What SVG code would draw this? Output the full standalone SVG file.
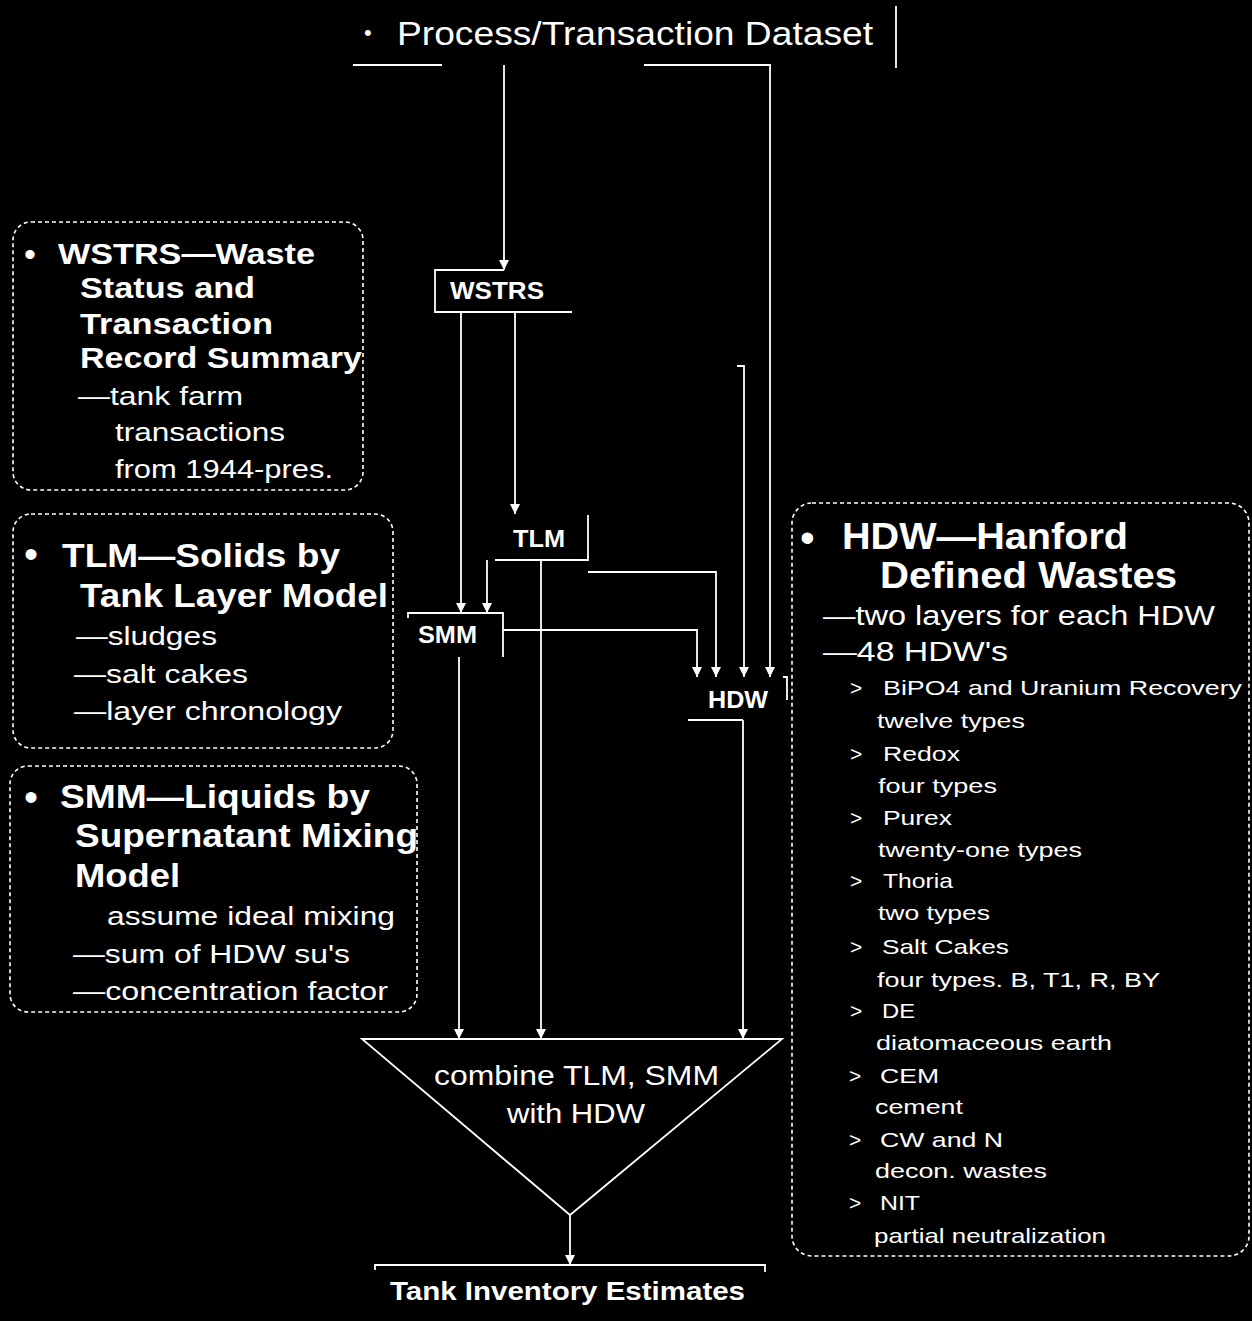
<svg xmlns="http://www.w3.org/2000/svg" width="1252" height="1321" viewBox="0 0 1252 1321">
<defs>
<style>
.t{fill:#fff;font-family:"Liberation Sans",Arial,sans-serif}
.b{font-weight:bold}
.ln{fill:none;stroke:#fff;stroke-width:1.8}
.dsh{fill:none;stroke:#fff;stroke-width:1.6;stroke-dasharray:4 3}
.c{fill:none;stroke:#fff;stroke-width:1.8}
.bul{fill:#fff}
</style>
<marker id="ah" markerUnits="userSpaceOnUse" markerWidth="10" markerHeight="12" refX="10" refY="5" orient="auto">
<path d="M0,0 L10,5 L0,10 Z" fill="#fff"/>
</marker>
</defs>
<rect width="1252" height="1321" fill="#000"/>

<g id="connectors">
<path class="c" d="M504 65 V270" marker-end="url(#ah)"/>
<path class="c" d="M770 65 V677" marker-end="url(#ah)"/>
<path class="c" d="M737 366 H744 V677" marker-end="url(#ah)"/>
<path class="c" d="M515 312 V514" marker-end="url(#ah)"/>
<path class="c" d="M461 312 V613" marker-end="url(#ah)"/>
<path class="c" d="M487 560 V613" marker-end="url(#ah)"/>
<path class="c" d="M588 572 H716 V677" marker-end="url(#ah)"/>
<path class="c" d="M503 630 H697 V677" marker-end="url(#ah)"/>
<path class="c" d="M541 560 V1039" marker-end="url(#ah)"/>
<path class="c" d="M459 657 V1039" marker-end="url(#ah)"/>
<path class="c" d="M743 720 V1039" marker-end="url(#ah)"/>
<path class="c" d="M570 1215 V1265" marker-end="url(#ah)"/>
</g>

<g id="process">
<path class="ln" d="M896 6 V68 M353 65 H442 M644 65 H771"/>
<text class="t" x="364" y="40" font-size="22">•</text>
<text class="t" x="397" y="45" font-size="34" textLength="476" lengthAdjust="spacingAndGlyphs">Process/Transaction Dataset</text>
</g>

<g id="wstrs">
<path class="ln" d="M504 270 H435 V312 H572"/>
<text class="t b" x="450" y="299" font-size="24" textLength="94" lengthAdjust="spacingAndGlyphs">WSTRS</text>
</g>

<g id="tlm">
<path class="ln" d="M588 515 V560 H495"/>
<text class="t b" x="513" y="547" font-size="24" textLength="52" lengthAdjust="spacingAndGlyphs">TLM</text>
</g>

<g id="smm">
<path class="ln" d="M408 618 V613 H503 V657"/>
<text class="t b" x="418" y="643" font-size="24" textLength="59" lengthAdjust="spacingAndGlyphs">SMM</text>
</g>

<g id="hdw">
<path class="ln" d="M688 720 H743 M783 677 H787 V700"/>
<text class="t b" x="708" y="708" font-size="24" textLength="60" lengthAdjust="spacingAndGlyphs">HDW</text>
</g>

<g id="combine">
<path class="ln" d="M362 1039 H782 L570 1215 Z"/>
<text class="t" x="434" y="1085" font-size="27" textLength="285" lengthAdjust="spacingAndGlyphs">combine TLM, SMM</text>
<text class="t" x="507" y="1123" font-size="27" textLength="138" lengthAdjust="spacingAndGlyphs">with HDW</text>
</g>

<g id="tank">
<path class="ln" d="M375 1270 V1265 H765 V1272"/>
<text class="t b" x="390" y="1300" font-size="25" textLength="355" lengthAdjust="spacingAndGlyphs">Tank Inventory Estimates</text>
</g>

<g id="wstrs-note">
<rect class="dsh" x="13" y="222" width="350" height="268" rx="18"/>
<text class="t" x="24" y="266" font-size="34">•</text>
<text class="t b" x="58" y="264" font-size="29" textLength="257" lengthAdjust="spacingAndGlyphs">WSTRS—Waste</text>
<text class="t b" x="80" y="298" font-size="29" textLength="175" lengthAdjust="spacingAndGlyphs">Status and</text>
<text class="t b" x="80" y="334" font-size="29" textLength="193" lengthAdjust="spacingAndGlyphs">Transaction</text>
<text class="t b" x="80" y="368" font-size="29" textLength="282" lengthAdjust="spacingAndGlyphs">Record Summary</text>
<text class="t" x="78" y="405" font-size="25" textLength="165" lengthAdjust="spacingAndGlyphs">—tank farm</text>
<text class="t" x="115" y="441" font-size="25" textLength="170" lengthAdjust="spacingAndGlyphs">transactions</text>
<text class="t" x="115" y="478" font-size="25" textLength="218" lengthAdjust="spacingAndGlyphs">from 1944-pres.</text>
</g>

<g id="tlm-note">
<rect class="dsh" x="13" y="514" width="380" height="234" rx="18"/>
<text class="t" x="24" y="568" font-size="40">•</text>
<text class="t b" x="62" y="567" font-size="33" textLength="278" lengthAdjust="spacingAndGlyphs">TLM—Solids by</text>
<text class="t b" x="80" y="607" font-size="33" textLength="308" lengthAdjust="spacingAndGlyphs">Tank Layer Model</text>
<text class="t" x="76" y="645" font-size="25" textLength="141" lengthAdjust="spacingAndGlyphs">—sludges</text>
<text class="t" x="74" y="683" font-size="25" textLength="174" lengthAdjust="spacingAndGlyphs">—salt cakes</text>
<text class="t" x="74" y="720" font-size="25" textLength="268" lengthAdjust="spacingAndGlyphs">—layer chronology</text>
</g>

<g id="smm-note">
<rect class="dsh" x="10" y="766" width="407" height="246" rx="18"/>
<text class="t" x="24" y="811" font-size="40">•</text>
<text class="t b" x="60" y="808" font-size="34" textLength="310" lengthAdjust="spacingAndGlyphs">SMM—Liquids by</text>
<text class="t b" x="75" y="847" font-size="34" textLength="343" lengthAdjust="spacingAndGlyphs">Supernatant Mixing</text>
<text class="t b" x="75" y="887" font-size="34" textLength="105" lengthAdjust="spacingAndGlyphs">Model</text>
<text class="t" x="107" y="925" font-size="26" textLength="288" lengthAdjust="spacingAndGlyphs">assume ideal mixing</text>
<text class="t" x="73" y="963" font-size="26" textLength="277" lengthAdjust="spacingAndGlyphs">—sum of HDW su's</text>
<text class="t" x="73" y="1000" font-size="26" textLength="315" lengthAdjust="spacingAndGlyphs">—concentration factor</text>
</g>

<g id="hdw-note">
<rect class="dsh" x="792" y="503" width="457" height="753" rx="20"/>
<text class="t" x="800" y="552" font-size="42">•</text>
<text class="t b" x="842" y="549" font-size="36" textLength="286" lengthAdjust="spacingAndGlyphs">HDW—Hanford</text>
<text class="t b" x="880" y="588" font-size="36" textLength="297" lengthAdjust="spacingAndGlyphs">Defined Wastes</text>
<text class="t" x="823" y="625" font-size="27" textLength="392" lengthAdjust="spacingAndGlyphs">—two layers for each HDW</text>
<text class="t" x="823" y="661" font-size="27" textLength="185" lengthAdjust="spacingAndGlyphs">—48 HDW's</text>
<g font-size="21">
<text class="t" x="850" y="695">&gt;</text>
<text class="t" x="883" y="695" textLength="359" lengthAdjust="spacingAndGlyphs">BiPO4 and Uranium Recovery</text>
<text class="t" x="877" y="728" textLength="148" lengthAdjust="spacingAndGlyphs">twelve types</text>
<text class="t" x="850" y="761">&gt;</text>
<text class="t" x="883" y="761" textLength="77" lengthAdjust="spacingAndGlyphs">Redox</text>
<text class="t" x="878" y="793" textLength="119" lengthAdjust="spacingAndGlyphs">four types</text>
<text class="t" x="850" y="825">&gt;</text>
<text class="t" x="883" y="825" textLength="69" lengthAdjust="spacingAndGlyphs">Purex</text>
<text class="t" x="878" y="857" textLength="204" lengthAdjust="spacingAndGlyphs">twenty-one types</text>
<text class="t" x="850" y="888">&gt;</text>
<text class="t" x="883" y="888" textLength="70" lengthAdjust="spacingAndGlyphs">Thoria</text>
<text class="t" x="878" y="920" textLength="112" lengthAdjust="spacingAndGlyphs">two types</text>
<text class="t" x="850" y="954">&gt;</text>
<text class="t" x="882" y="954" textLength="127" lengthAdjust="spacingAndGlyphs">Salt Cakes</text>
<text class="t" x="877" y="987" textLength="283" lengthAdjust="spacingAndGlyphs">four types. B, T1, R, BY</text>
<text class="t" x="850" y="1018">&gt;</text>
<text class="t" x="882" y="1018" textLength="33" lengthAdjust="spacingAndGlyphs">DE</text>
<text class="t" x="876" y="1050" textLength="236" lengthAdjust="spacingAndGlyphs">diatomaceous earth</text>
<text class="t" x="849" y="1083">&gt;</text>
<text class="t" x="880" y="1083" textLength="59" lengthAdjust="spacingAndGlyphs">CEM</text>
<text class="t" x="875" y="1114" textLength="88" lengthAdjust="spacingAndGlyphs">cement</text>
<text class="t" x="849" y="1147">&gt;</text>
<text class="t" x="880" y="1147" textLength="123" lengthAdjust="spacingAndGlyphs">CW and N</text>
<text class="t" x="875" y="1178" textLength="172" lengthAdjust="spacingAndGlyphs">decon. wastes</text>
<text class="t" x="849" y="1210">&gt;</text>
<text class="t" x="880" y="1210" textLength="40" lengthAdjust="spacingAndGlyphs">NIT</text>
<text class="t" x="874" y="1243" textLength="232" lengthAdjust="spacingAndGlyphs">partial neutralization</text>
</g>
</g>
</svg>
